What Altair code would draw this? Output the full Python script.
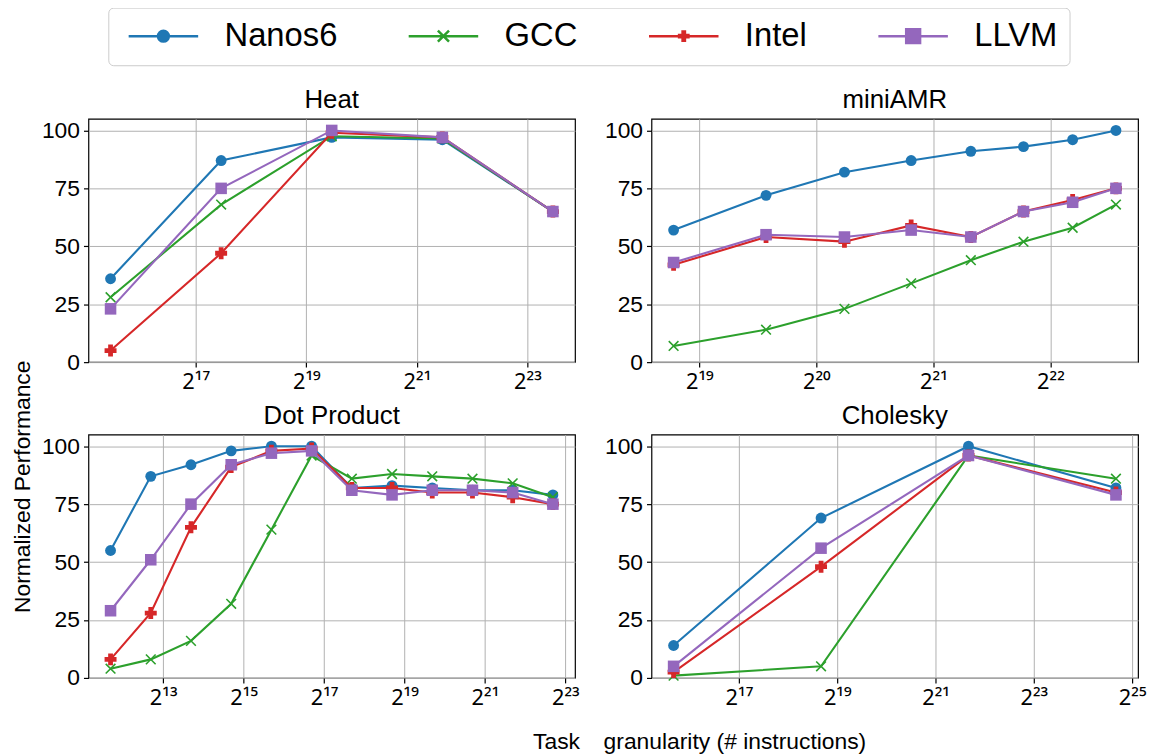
import altair as alt
import pandas as pd

series = ["Nanos6", "GCC", "Intel", "LLVM"]
colors = ["#1f77b4", "#2ca02c", "#d62728", "#9467bd"]

# x positions are log2(task granularity)
heat_exp = [15.46, 17.46, 19.46, 21.46, 23.46]
heat_nanos6 = [36, 87, 97, 96, 65]
heat_gcc = [28, 68, 97.5, 96.5, 65]
heat_intel = [5, 47, 99, 97, 65]
heat_llvm = [23, 75, 100, 97, 65]
heat_ticks = [17, 19, 21, 23]

amr_exp = [18.78, 19.57, 20.24, 20.81, 21.32, 21.77, 22.19, 22.56]
amr_nanos6 = [57, 72, 82, 87, 91, 93, 96, 100]
amr_gcc = [7, 14, 23, 34, 44, 52, 58, 68]
amr_intel = [42, 54, 52, 59, 54, 65, 70, 75]
amr_llvm = [43, 55, 54, 57, 54, 65, 69, 75]
amr_ticks = [19, 20, 21, 22]

dot_exp = [11.69, 12.69, 13.69, 14.69, 15.69, 16.69, 17.69, 18.69, 19.69, 20.69, 21.69, 22.69]
dot_nanos6 = [55, 87, 92, 98, 100, 100, 82, 83, 82, 81, 81, 79]
dot_gcc = [4, 8, 16, 32, 64, 96, 86, 88, 87, 86, 84, 78]
dot_intel = [8, 28, 65, 91, 98, 99, 82, 82, 80, 80, 78, 75]
dot_llvm = [29, 51, 75, 92, 97, 98, 81, 79, 81, 81, 80, 75]
dot_ticks = [13, 15, 17, 19, 21, 23]

chol_exp = [15.67, 18.67, 21.67, 24.67]
chol_nanos6 = [14, 69, 100, 82]
chol_gcc = [1, 5, 96, 86]
chol_intel = [2.5, 48, 96, 80]
chol_llvm = [5, 56, 96, 79]
chol_ticks = [17, 19, 21, 23, 25]

y_ticks = [0, 25, 50, 75, 100]

FONT = "Liberation Sans"
XFONT = "'Noto Sans', 'DejaVu Sans', sans-serif"
SUP = str.maketrans("0123456789", "⁰¹²³⁴⁵⁶⁷⁸⁹")
XPATH = "M-1,-1L1,1M-1,1L1,-1"


def circ(r):
    return f"M{r},0A{r},{r},0,1,1,{-r},0A{r},{r},0,1,1,{r},0Z"


def sq(s):
    return f"M{-s},{-s}H{s}V{s}H{-s}Z"


LINE = "M-5,0H5"
legend_paths = [
    LINE + "".join(circ(r) for r in [0.78, 0.6, 0.42, 0.24, 0.08]),
    LINE + "M-0.8,-0.8L0.8,0.8M-0.8,0.8L0.8,-0.8",
    LINE + "M-0.85,-0.17H0.85M-0.85,0.17H0.85M-0.17,-0.85V0.85M0.17,-0.85V0.85M0,-0.85V0.85",
    LINE + "".join(sq(s) for s in [1.0, 0.78, 0.56, 0.34, 0.12]),
]

point_styles = {
    "Nanos6": dict(shape="circle", filled=True, size=120),
    "GCC": dict(shape=XPATH, filled=False, size=95, strokeWidth=1.6),
    "Intel": dict(shape="cross", filled=True, size=145),
    "LLVM": dict(shape="square", filled=True, size=135),
}


def label_expr(ticks):
    e = "round(log(datum.value)/LN2)"
    expr = "''"
    for t in reversed(ticks):
        expr = f"{e} == {t} ? '2{str(t).translate(SUP)}' : ({expr})"
    return expr


def panel(title, exps, vals, ticks, xaxis_extra=None, yaxis_extra=None, legend_layer=None):
    rows = []
    for s, vs in zip(series, vals):
        for e, v in zip(exps, vs):
            rows.append({"series": s, "g": 2 ** e, "v": v})
    df = pd.DataFrame(rows)
    span = max(exps) - min(exps)
    lo, hi = min(exps) - 0.05 * span, max(exps) + 0.05 * span
    xa = dict(values=[2 ** t for t in ticks], labelExpr=label_expr(ticks), grid=True, title=None,
              labelFont=XFONT, labelFontSize=22, labelPadding=5)
    if xaxis_extra:
        xa.update(xaxis_extra)
    ya = dict(values=y_ticks, grid=True, title=None)
    if yaxis_extra:
        ya.update(yaxis_extra)
    X = alt.X("g:Q", scale=alt.Scale(type="log", base=2, domain=[2 ** lo, 2 ** hi], nice=False, zero=False),
              axis=alt.Axis(**xa))
    Y = alt.Y("v:Q", scale=alt.Scale(domain=[0, 105], nice=False), axis=alt.Axis(**ya))
    base = alt.Chart(df)
    layers = []
    for s, c in zip(series, colors):
        sub = base.transform_filter(alt.datum.series == s)
        layers.append(sub.mark_line(color=c, strokeWidth=2.1).encode(x=X, y=Y))
        layers.append(sub.mark_point(color=c, opacity=1, **point_styles[s]).encode(x=X, y=Y))
    if legend_layer is not None:
        layers.append(legend_layer)
    return alt.layer(*layers).properties(
        width=490, height=245,
        title=alt.TitleParams(title, fontSize=26, font=FONT, fontWeight="normal", color="black",
                              anchor="middle", offset=6),
    )


legend_obj = alt.Legend(
    title=None, orient="none", legendX=20, legendY=-112, direction="horizontal", columns=4,
    symbolSize=196, symbolStrokeWidth=2.5, symbolOffset=27, labelOffset=45, columnPadding=63,
    labelFontSize=33, labelFont=FONT, labelColor="black", padding=12, labelLimit=400,
    strokeColor="#cccccc", cornerRadius=5, fillColor="white", symbolFillColor="transparent",
)
legend_layer = alt.Chart(pd.DataFrame({"series": series})).mark_point(
    filled=False, opacity=1, strokeWidth=2.5, clip=True, size=196
).encode(
    x=alt.value(-400), y=alt.value(-400),
    color=alt.Color("series:N", scale=alt.Scale(domain=series, range=colors), legend=legend_obj),
    shape=alt.Shape("series:N", scale=alt.Scale(domain=series, range=legend_paths), legend=legend_obj),
)

heat = panel("Heat", heat_exp, [heat_nanos6, heat_gcc, heat_intel, heat_llvm], heat_ticks,
             legend_layer=legend_layer,
             yaxis_extra=dict(title="Normalized Performance", titleX=-66, titleY=370, titleAngle=270,
                              titleAlign="center", titleBaseline="middle", titleFontSize=23,
                              titleFont=FONT, titleFontWeight="normal", titleColor="black"))
amr = panel("miniAMR", amr_exp, [amr_nanos6, amr_gcc, amr_intel, amr_llvm], amr_ticks)
dot = panel("Dot Product", dot_exp, [dot_nanos6, dot_gcc, dot_intel, dot_llvm], dot_ticks)
chol = panel("Cholesky", chol_exp, [chol_nanos6, chol_gcc, chol_intel, chol_llvm], chol_ticks,
             xaxis_extra=dict(title="Task\u00a0\u00a0\u00a0\u2009granularity (# instructions)",
                              titleX=48, titleY=64, titleAlign="center", titleBaseline="middle",
                              titleFontSize=23, titleFont=FONT, titleFontWeight="normal",
                              titleColor="black"))

chart = alt.concat(heat, amr, dot, chol, columns=2, spacing={"row": 73, "column": 77},
                   bounds="flush").properties(
    padding={"left": 3, "top": -4, "right": 0, "bottom": 0}
).configure_view(
    stroke="black", strokeWidth=1.2
).configure_axis(
    labelFont=FONT, labelFontSize=23, labelColor="black", tickColor="black", tickWidth=1.2,
    tickSize=5, labelPadding=4, gridColor="#b0b0b0", gridWidth=1, domain=False,
)

chart.save("out.html", embed_options={"renderer": "svg", "actions": False})
